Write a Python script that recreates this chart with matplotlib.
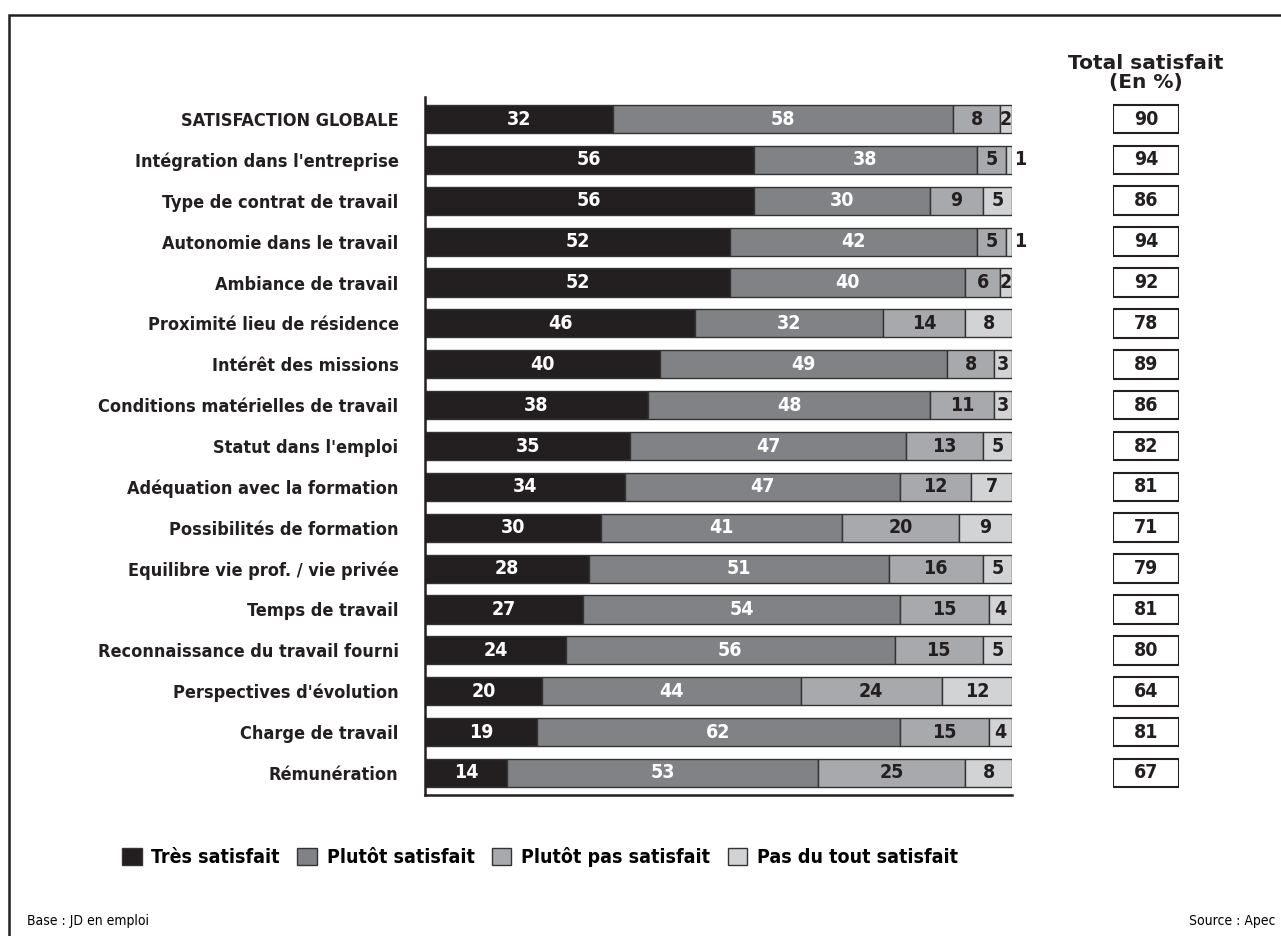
import matplotlib.pyplot as plt
from matplotlib.patches import Patch, Rectangle

plt.rcParams['font.family'] = ['DejaVu Sans']
plt.rcParams['font.stretch'] = 'condensed'

# Data
categories = [
    "SATISFACTION GLOBALE", "Intégration dans l'entreprise", "Type de contrat de travail",
    "Autonomie dans le travail", "Ambiance de travail", "Proximité lieu de résidence",
    "Intérêt des missions", "Conditions matérielles de travail", "Statut dans l'emploi",
    "Adéquation avec la formation", "Possibilités de formation", "Equilibre vie prof. / vie privée",
    "Temps de travail", "Reconnaissance du travail fourni", "Perspectives d'évolution",
    "Charge de travail", "Rémunération",
]
tres = [32, 56, 56, 52, 52, 46, 40, 38, 35, 34, 30, 28, 27, 24, 20, 19, 14]
plutot = [58, 38, 30, 42, 40, 32, 49, 48, 47, 47, 41, 51, 54, 56, 44, 62, 53]
plutot_pas = [8, 5, 9, 5, 6, 14, 8, 11, 13, 12, 20, 16, 15, 15, 24, 15, 25]
pas_du_tout = [2, 1, 5, 1, 2, 8, 3, 3, 5, 7, 9, 5, 4, 5, 12, 4, 8]
totals = [90, 94, 86, 94, 92, 78, 89, 86, 82, 81, 71, 79, 81, 80, 64, 81, 67]
series_names = ["Très satisfait", "Plutôt satisfait", "Plutôt pas satisfait", "Pas du tout satisfait"]

colors = ['#231f20', '#808285', '#a7a9ac', '#d1d3d4']
text_colors = ['white', 'white', '#231f20', '#231f20']
W, H = 1281, 936

fig = plt.figure(figsize=(W / 100, H / 100), dpi=100)
ax = fig.add_axes([425 / W, 1 - 795 / H, 587 / W, 698 / H])

n = len(categories)
y = list(range(n))
left = [0] * n
for k, vals in enumerate([tres, plutot, plutot_pas, pas_du_tout]):
    ax.barh(y, vals, left=left, height=0.69, color=colors[k], edgecolor='#333333', linewidth=1)
    for i, v in enumerate(vals):
        if v <= 1:
            ax.text(left[i] + v + 0.3, i, str(v), ha='left', va='center', fontsize=14,
                    fontweight='bold', color='#231f20')
        else:
            ax.text(left[i] + v / 2, i, str(v), ha='center', va='center', fontsize=14,
                    fontweight='bold', color=text_colors[k])
    left = [a + b for a, b in zip(left, vals)]

ax.set_xlim(0, 100)
ax.set_ylim(n - 0.46, -0.54)
ax.set_yticks(y)
ax.set_yticklabels(categories, fontsize=13, fontweight='bold', color='#231f20')
ax.tick_params(axis='y', length=0, pad=19)
ax.set_xticks([])
for s in ['top', 'right']:
    ax.spines[s].set_visible(False)
for s in ['left', 'bottom']:
    ax.spines[s].set_linewidth(1.8)
    ax.spines[s].set_color('#231f20')

# Total column
ax2 = fig.add_axes([1113 / W, 1 - 795 / H, 66 / W, 698 / H])
ax2.barh(y, [1] * n, height=0.7, color='white', edgecolor='#231f20', linewidth=1.5)
for i, t in enumerate(totals):
    ax2.text(0.5, i, str(t), ha='center', va='center', fontsize=14, fontweight='bold', color='#231f20')
ax2.set_xlim(0, 1)
ax2.set_ylim(n - 0.46, -0.54)
ax2.axis('off')
fig.text(1146 / W, 1 - 73 / H, "Total satisfait\n(En %)", ha='center', va='center',
         fontsize=14.5, fontweight='bold', stretch='normal', color='#231f20', linespacing=1.05)

# Legend
handles = [Patch(facecolor=c, edgecolor='#333333') for c in colors]
leg = fig.legend(handles, series_names, loc='center', bbox_to_anchor=(540 / W, 1 - 857 / H),
                 ncol=4, frameon=False, handlelength=1.0, handleheight=1.0,
                 handletextpad=0.5, columnspacing=0.9,
                 prop={'size': 14, 'weight': 'bold', 'stretch': 'condensed'})

# Footer
fig.text(27 / W, 1 - 921 / H, "Base : JD en emploi", ha='left', va='center', fontsize=10)
fig.text(1275 / W, 1 - 921 / H, "Source : Apec", ha='right', va='center', fontsize=10)

# Frame
fig.add_artist(Rectangle((9 / W, -0.1), 1.2, 1.1 - 15 / H, transform=fig.transFigure,
                         fill=False, edgecolor='#231f20', linewidth=1.8))

fig.savefig('out.png', dpi=100)
